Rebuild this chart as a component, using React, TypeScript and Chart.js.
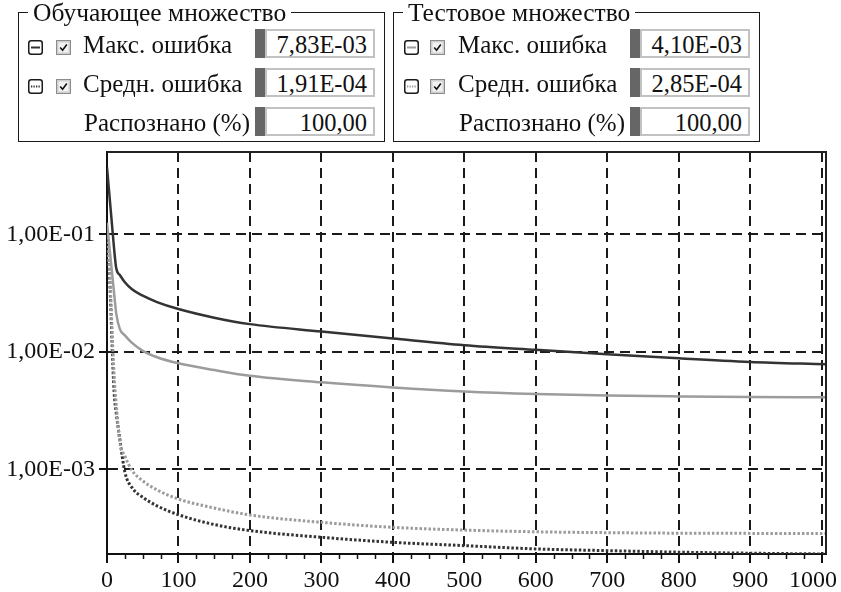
import React, { useEffect, useRef } from "react";
import { Chart, registerables } from "chart.js";

Chart.register(...registerables);

// ---- data ----
const EPOCHS = [0, 4, 7, 10, 13, 18, 25, 35, 50, 70, 100, 150, 200, 300, 400, 500, 600, 700, 800, 900, 1006];
const TRAIN_MAX = [0.37, 0.195, 0.12, 0.0743, 0.051, 0.045, 0.039, 0.034, 0.03, 0.0265, 0.0231, 0.0195, 0.0172, 0.0149, 0.013, 0.0114, 0.0104, 0.00955, 0.0088, 0.0082, 0.00783];
const TRAIN_MEAN = [0.08, 0.039, 0.012, 0.0045, 0.003, 0.0018, 0.00095, 0.0007, 0.00058, 0.00049, 0.000412, 0.00034, 0.000302, 0.000265, 0.00024, 0.000225, 0.000211, 0.000204, 0.000198, 0.000194, 0.000191];
const TEST_MAX = [0.125, 0.0718, 0.0473, 0.0312, 0.021, 0.0156, 0.0138, 0.0119, 0.0102, 0.009, 0.008, 0.007, 0.00625, 0.0055, 0.00498, 0.00461, 0.00439, 0.00426, 0.00418, 0.00412, 0.0041];
const TEST_MEAN = [0.095, 0.045, 0.016, 0.0062, 0.0035, 0.0017, 0.0013, 0.00098, 0.0008, 0.00067, 0.00056, 0.00047, 0.00041, 0.000355, 0.000322, 0.000305, 0.000295, 0.00029, 0.000287, 0.000286, 0.000285];
const RECOGNIZED = [100, 100];

const X_TICKS = [0, 100, 200, 300, 400, 500, 600, 700, 800, 900, 1000];
const X_MINOR_STEP = 25;
const Y_TICKS = [1e-3, 1e-2, 1e-1];
const Y_MIN = 1.91e-4;
const Y_MAX = 0.5;

const PANEL_TITLES = ["Обучающее множество", "Тестовое множество"];
const ROW_LABELS = ["Макс. ошибка", "Средн. ошибка", "Распознано (%)"];

// ---- styling ----
const FONT = '"Liberation Serif", "Times New Roman", Times';
const DARK = "#333333";
const GRAY = "#9c9c9c";
const INK = "#111111";
const LABEL_SIZE = 25;
const TITLE_SIZE = 25.5;
const VALUE_SIZE = 24.5;
const LH = 26;
const baseOffset = (fs: number) => (LH - 1.107 * fs) / 2 + 0.891 * fs;

const last = (a: number[]) => a[a.length - 1];
const fmtExp = (v: number) => {
  const [m, e] = v.toExponential(2).split("e");
  const n = parseInt(e, 10);
  const sign = n < 0 ? "-" : "+";
  return m.replace(".", ",") + "E" + sign + String(Math.abs(n)).padStart(2, "0");
};
const fmtPct = (v: number) => v.toFixed(2).replace(".", ",");

const toPoints = (arr: number[]) => EPOCHS.map((x, i) => ({ x, y: arr[i] }));

const framePlugin = {
  id: "frame",
  beforeDraw(chart: any) {
    const xs = chart.scales.x;
    const items = xs.getLabelItems(chart.chartArea);
    if (items && items.length) {
      const it = items[items.length - 1];
      const ctx = chart.ctx;
      ctx.save();
      ctx.font = `24px ${FONT}`;
      const w = ctx.measureText(String(it.label)).width;
      ctx.restore();
      const cx = it.options.translation[0];
      const right = Math.min(cx + w / 2, chart.width - 4);
      it.options.textAlign = "right";
      it.options.translation[0] = right;
    }
  },
  afterDraw(chart: any) {
    const { ctx, chartArea: a } = chart;
    const xs = chart.scales.x;
    ctx.save();
    ctx.strokeStyle = INK;
    ctx.lineWidth = 1.5;
    for (let v = X_MINOR_STEP; v <= xs.max; v += X_MINOR_STEP) {
      if (X_TICKS.includes(v)) continue;
      const px = Math.round(xs.getPixelForValue(v)) + 0.5;
      ctx.beginPath();
      ctx.moveTo(px, a.bottom);
      ctx.lineTo(px, a.bottom + 5);
      ctx.stroke();
    }
    ctx.strokeStyle = "#222";
    ctx.lineWidth = 2;
    ctx.beginPath();
    ctx.moveTo(a.left, a.top);
    ctx.lineTo(a.right, a.top);
    ctx.lineTo(a.right, a.bottom);
    ctx.stroke();
    ctx.restore();
  },
};

function LineIcon({ left, top, color, dotted }: any) {
  return (
    <svg width={15} height={15} style={{ position: "absolute", left, top }}>
      <rect x={0.75} y={0.75} width={13.5} height={13.5} rx={2.5} fill="#fff" stroke="#1a1a1a" strokeWidth={1.5} />
      <line x1={3} y1={7.5} x2={12} y2={7.5} stroke={color} strokeWidth={2} strokeDasharray={dotted ? "1.3 1.2" : undefined} />
    </svg>
  );
}

function CheckIcon({ left, top }: any) {
  return (
    <svg width={15} height={15} style={{ position: "absolute", left, top }}>
      <rect x={0.5} y={0.5} width={14} height={14} fill="#cfcfcf" stroke="#8c8c8c" strokeWidth={1} />
      <rect x={2.5} y={2.5} width={10} height={10} fill="#f2f2f2" stroke="none" />
      <polyline points="4.2,7.4 6.6,10.2 10.8,4.6" fill="none" stroke="#111" strokeWidth={1.6} />
    </svg>
  );
}

const ROW_BASE = [53.5, 92.5, 131];
const TITLE_BASE = 22;
const PANEL_W = 367;

function Panel({ left, title, rows, lineColor, iconLeft, checkLeft }: any) {
  return (
    <div style={{ position: "absolute", left, top: 0, width: PANEL_W, height: 145, fontFamily: FONT, fontSize: LABEL_SIZE, color: INK }}>
      <div style={{ position: "absolute", left: 0, top: 12, width: PANEL_W, height: 130, border: "1.5px solid #1a1a1a", boxSizing: "border-box" }} />
      <div style={{ position: "absolute", left: 10, top: TITLE_BASE - baseOffset(TITLE_SIZE), height: 22, padding: "0 5px", background: "#fff", fontSize: TITLE_SIZE, lineHeight: `${LH}px`, whiteSpace: "nowrap" }}>{title}</div>
      {rows.map((r: any, i: number) => {
        const base = ROW_BASE[i];
        const textTop = base - baseOffset(LABEL_SIZE);
        const boxTop = base - 24.5;
        const valTop = base - baseOffset(VALUE_SIZE);
        return (
          <React.Fragment key={i}>
            {r.icon && <LineIcon left={iconLeft} top={base - 13.5} color={lineColor} dotted={r.icon === "dotted"} />}
            {r.icon && <CheckIcon left={checkLeft} top={base - 13.5} />}
            {r.icon ? (
              <div style={{ position: "absolute", left: 65, top: textTop, lineHeight: `${LH}px`, whiteSpace: "nowrap" }}>{r.label}</div>
            ) : (
              <div style={{ position: "absolute", left: 0, width: 232, top: textTop, lineHeight: `${LH}px`, whiteSpace: "nowrap", textAlign: "right" }}>{r.label}</div>
            )}
            <div style={{ position: "absolute", left: 237, top: boxTop, width: 120, height: 29 }}>
              <div style={{ position: "absolute", left: 0, top: 0, width: 10, height: 29, background: "#666" }} />
              <div style={{ position: "absolute", left: 10, top: 0, width: 110, height: 29, background: "#fff", border: "2px solid #c2c2c2", boxSizing: "border-box" }} />
              <div style={{ position: "absolute", right: 8, top: valTop - boxTop, fontSize: VALUE_SIZE, lineHeight: `${LH}px`, whiteSpace: "nowrap" }}>{r.value}</div>
            </div>
          </React.Fragment>
        );
      })}
    </div>
  );
}

export default function App() {
  const ref = useRef<HTMLCanvasElement | null>(null);

  useEffect(() => {
    if (!ref.current) return;
    const gridCommon = { color: "#1a1a1a", lineWidth: 2, tickColor: INK, tickWidth: 2 };
    const borderCommon = { display: true, color: INK, width: 2, dash: [10, 6] };
    const tickFont = { family: FONT, size: 24 };
    const chart = new Chart(ref.current, {
      type: "line",
      data: {
        datasets: [
          { label: "Тест: макс. ошибка", data: toPoints(TEST_MAX), borderColor: GRAY, borderWidth: 2.5, pointRadius: 0, cubicInterpolationMode: "monotone" },
          { label: "Тест: средн. ошибка", data: toPoints(TEST_MEAN), borderColor: GRAY, borderWidth: 3, borderDash: [2.5, 2], pointRadius: 0, cubicInterpolationMode: "monotone" },
          { label: "Обуч.: макс. ошибка", data: toPoints(TRAIN_MAX), borderColor: DARK, borderWidth: 2.5, pointRadius: 0, cubicInterpolationMode: "monotone" },
          { label: "Обуч.: средн. ошибка", data: toPoints(TRAIN_MEAN), borderColor: DARK, borderWidth: 3, borderDash: [2.5, 2], pointRadius: 0, cubicInterpolationMode: "monotone" },
        ],
      },
      options: {
        animation: false,
        responsive: false,
        events: [],
        font: { family: FONT, size: 24 },
        layout: { padding: { top: 152, right: 15, left: 0, bottom: 0 } },
        plugins: { legend: { display: false }, tooltip: { enabled: false } },
        scales: {
          x: {
            type: "linear",
            min: 0,
            max: last(EPOCHS),
            afterBuildTicks: (s: any) => { s.ticks = X_TICKS.map((v) => ({ value: v })); },
            afterFit: (s: any) => { s.height = 38; s.paddingLeft = 0; s.paddingRight = 0; },
            grid: { ...gridCommon, tickLength: 9 },
            border: borderCommon,
            ticks: { color: INK, font: tickFont, padding: 3, maxRotation: 0, autoSkip: false, callback: (v: any) => String(v) },
          },
          y: {
            type: "logarithmic",
            min: Y_MIN,
            max: Y_MAX,
            afterBuildTicks: (s: any) => { s.ticks = Y_TICKS.map((v) => ({ value: v })); },
            afterFit: (s: any) => { s.width = 107; s.paddingTop = 0; s.paddingBottom = 0; },
            grid: { ...gridCommon, tickLength: 8 },
            border: borderCommon,
            ticks: { color: INK, font: tickFont, padding: 4, autoSkip: false, callback: (v: any) => fmtExp(Number(v)) },
          },
        },
      } as any,
      plugins: [framePlugin],
    } as any);
    return () => chart.destroy();
  }, []);

  const trainRows = [
    { label: ROW_LABELS[0], value: fmtExp(last(TRAIN_MAX)), icon: "solid" },
    { label: ROW_LABELS[1], value: fmtExp(last(TRAIN_MEAN)), icon: "dotted" },
    { label: ROW_LABELS[2], value: fmtPct(RECOGNIZED[0]), icon: null },
  ];
  const testRows = [
    { label: ROW_LABELS[0], value: fmtExp(last(TEST_MAX)), icon: "solid" },
    { label: ROW_LABELS[1], value: fmtExp(last(TEST_MEAN)), icon: "dotted" },
    { label: ROW_LABELS[2], value: fmtPct(RECOGNIZED[1]), icon: null },
  ];

  return (
    <div style={{ position: "fixed", left: 0, top: 0, width: 841, height: 592, background: "#fff", overflow: "hidden", fontFamily: FONT }}>
      <canvas ref={ref} width={841} height={592} style={{ position: "absolute", left: 0, top: 0, width: 841, height: 592 }} />
      <Panel left={18} title={PANEL_TITLES[0]} rows={trainRows} lineColor={DARK} iconLeft={10} checkLeft={38} />
      <Panel left={393} title={PANEL_TITLES[1]} rows={testRows} lineColor={GRAY} iconLeft={11} checkLeft={37} />
    </div>
  );
}
